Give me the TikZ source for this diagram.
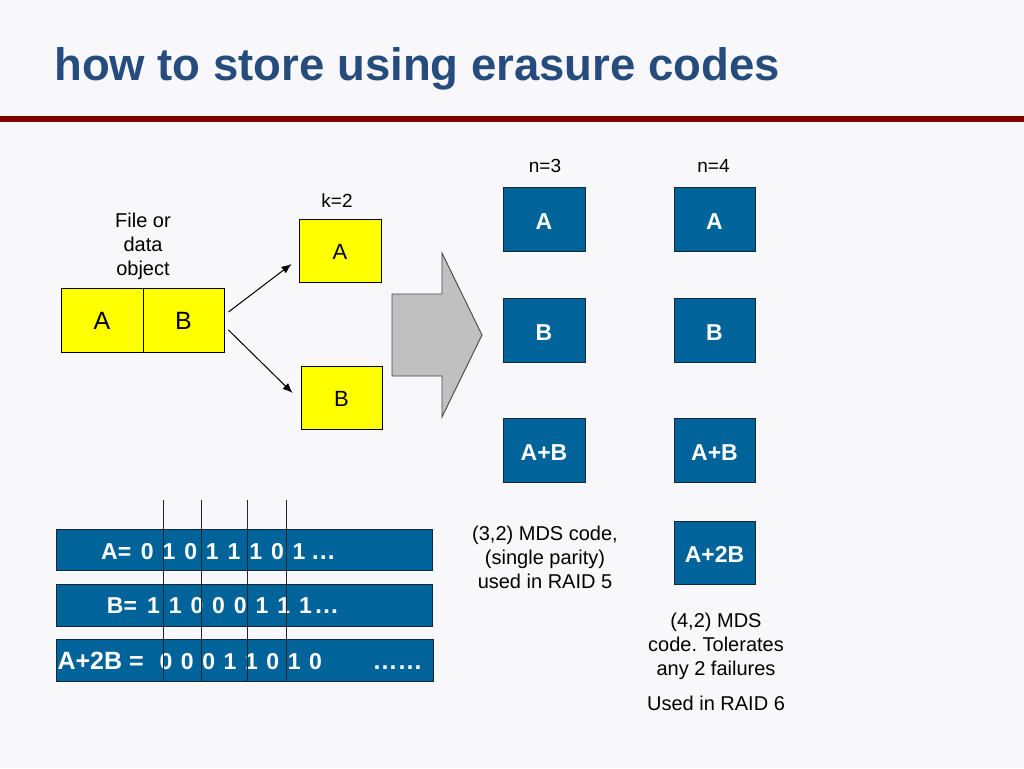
\documentclass[tikz,border=0pt]{standalone}
\usepackage{fontspec}
\setmainfont{Liberation Sans}
\usetikzlibrary{arrows.meta}
\frenchspacing
\definecolor{bgc}{RGB}{248,248,250}
\definecolor{titleblue}{RGB}{38,76,125}
\definecolor{darkred}{RGB}{128,0,0}
\definecolor{bluefill}{RGB}{0,99,153}
\definecolor{bborder}{RGB}{20,40,60}
\definecolor{grayfill}{RGB}{192,192,192}
\definecolor{grayborder}{RGB}{70,70,70}
\definecolor{yfill}{RGB}{255,255,0}
\tikzset{
  ybox/.style={draw=black, line width=0.9pt, fill=yfill, inner sep=0pt, font=\fontsize{22}{26}\selectfont, text height=18pt, text depth=0pt},
  bigy/.style={ybox, font=\fontsize{25}{30}\selectfont, text height=18pt, minimum width=81pt, minimum height=64pt},
  bbox/.style={draw=bborder, line width=0.9pt, fill=bluefill, text=white, inner sep=0pt, font=\bfseries\fontsize{23}{27}\selectfont, text height=20pt, text depth=0pt},
  bar/.style={draw=bborder, line width=0.9pt, fill=bluefill, inner sep=0pt},
  bartext/.style={anchor=base west, inner sep=0pt, text=white, font=\bfseries\fontsize{23}{27}\selectfont},
  lbl/.style={inner sep=0pt, align=center, font=\fontsize{20}{24}\selectfont},
  small/.style={inner sep=0pt, font=\fontsize{19}{23}\selectfont},
  conn/.style={line width=1pt, -{Latex[length=10pt,width=8pt]}},
  vline/.style={line width=0.8pt, draw=black!85}
}
\begin{document}
\begin{tikzpicture}[x=1pt,y=-1pt]
% background and bounding box
\fill[bgc] (0,0) rectangle (1024,768);
\useasboundingbox (0,0) rectangle (1024,768);
% title and rule
\node[anchor=base west, inner sep=0pt, text=titleblue, font=\bfseries\fontsize{45.5}{54}\selectfont] (title) at (54,80) {how to store using erasure codes};
\fill[darkred] (0,116) rectangle (1024,122);
% file / data object
\node[lbl] (file) at (143,246) {File or\\data\\object};
\node[bigy, minimum width=82pt] (yA) at (102,320) {A};
\node[bigy] (yB) at (183.5,320) {B};
% k=2 boxes
\node[small] (k2) at (337,200.5) {k=2};
\node[ybox, minimum width=82pt, minimum height=63pt] (ka) at (340,250.5) {A};
\node[ybox, minimum width=81pt, minimum height=63pt] (kb) at (341.5,397.5) {B};
\draw[conn] ([xshift=4pt,yshift=8pt]yB.east) -- ([xshift=-7pt,yshift=-13.5pt]ka.west);
\draw[conn] ([xshift=4pt,yshift=-10pt]yB.east) -- ([xshift=-8pt,yshift=4.5pt]kb.west);
% big gray arrow
\draw[fill=grayfill, draw=grayborder, line width=0.9pt, line join=miter]
  (392,294) -- (442,294) -- (442,253) -- (482,335) -- (442,417) -- (442,376) -- (392,376) -- cycle;
% n=3 column
\node[small] (n3) at (545,165.8) {n=3};
\node[bbox, minimum width=82pt, minimum height=64pt] (a3) at (544,219) {A};
\node[bbox, minimum width=82pt, minimum height=64pt] (b3) at (544,330) {B};
\node[bbox, minimum width=82pt, minimum height=64pt] (ab3) at (544,450) {A+B};
\node[lbl] (mds3) at (545,557.7) {(3,2) MDS code,\\(single parity)\\used in RAID 5};
% n=4 column
\node[small] (n4) at (713.5,165.8) {n=4};
\node[bbox, minimum width=81pt, minimum height=64pt] (a4) at (714.5,219) {A};
\node[bbox, minimum width=81pt, minimum height=64pt] (b4) at (714.5,330) {B};
\node[bbox, minimum width=81pt, minimum height=64pt] (ab4) at (714.5,450) {A+B};
\node[bbox, minimum width=81pt, minimum height=63pt] (a2b4) at (714.5,552.5) {A+2B};
\node[lbl] (mds4) at (716,646.8) {(4,2) MDS\\code. Tolerates\\any 2 failures};
\node[lbl] (raid6) at (716,703.8) {Used in RAID 6};
% bit bars
\node[bar, minimum width=376pt, minimum height=41pt] (bar1) at (244,549.5) {};
\node[bar, minimum width=376pt, minimum height=42pt] (bar2) at (244,605) {};
\node[bar, minimum width=377pt, minimum height=42pt] (bar3) at (244.5,660) {};
\node[bartext] (p1) at (101,559.3) {A=};
\node[bartext] (bits1) at (140.7,559.3) {\spaceskip=8.9pt\relax 0 1 0 1 1 1 0 1};
\node[bartext, font=\bfseries\fontsize{25}{29}\selectfont] (d1) at (310.7,559.3) {…};
\node[bartext] (p2) at (106.7,613.3) {B=};
\node[bartext] (bits2) at (147,613.3) {\spaceskip=8.9pt\relax 1 1 0 0 0 1 1 1};
\node[bartext, font=\bfseries\fontsize{25}{29}\selectfont] (d2) at (314,613.3) {…};
\node[bartext, font=\bfseries\fontsize{25}{29}\selectfont] (p3) at (57.3,669.3) {A+2B =};
\node[bartext] (bits3) at (159.3,669.3) {\spaceskip=8.6pt\relax 0 0 0 1 1 0 1 0};
\node[bartext, font=\bfseries\fontsize{25}{29}\selectfont] (d3) at (372.5,669.3) {……};
% vertical separator lines
\foreach \i/\x in {1/163.3,2/201.7,3/247.3,4/286.7}{
  \coordinate (vt\i) at (\x,500);
  \coordinate (vb\i) at (\x,681);
  \draw[vline] (vt\i) -- (vb\i);
}
\end{tikzpicture}
\end{document}
